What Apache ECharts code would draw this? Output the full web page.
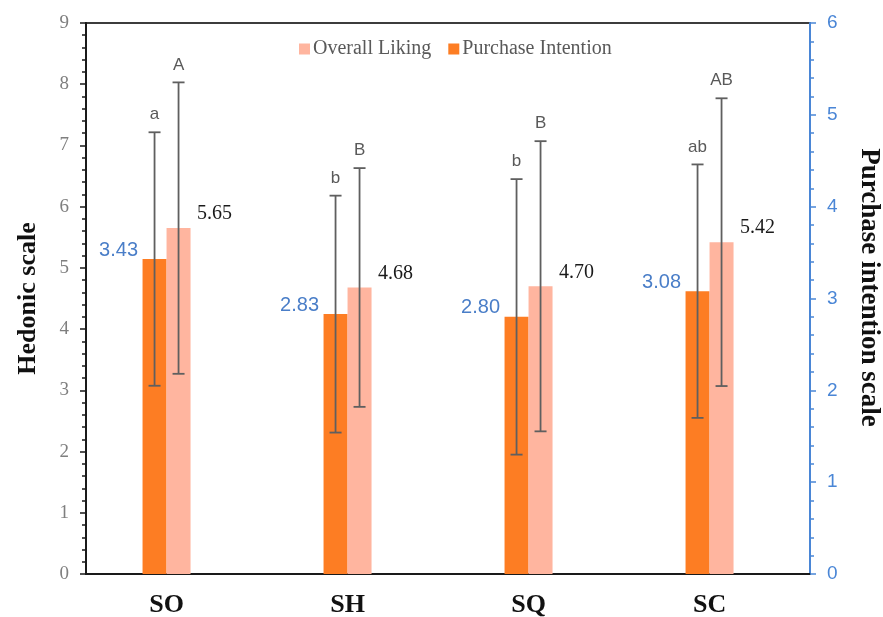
<!DOCTYPE html>
<html>
<head>
<meta charset="utf-8">
<script src="https://cdn.jsdelivr.net/npm/echarts@6/dist/echarts.min.js"></script>
<style>
html,body{margin:0;padding:0;background:#fff;}
#chart{width:883px;height:617px;}
</style>
</head>
<body>
<div id="chart"></div>
<script>
const categories = ['SO', 'SH', 'SQ', 'SC'];
const overallLiking = [5.65, 4.68, 4.70, 5.42];
const likingSD = [2.38, 1.95, 2.37, 2.35];
const likingLetters = ['A', 'B', 'B', 'AB'];
const purchaseIntention = [3.43, 2.83, 2.80, 3.08];
const purchaseSD = [1.38, 1.29, 1.50, 1.38];
const purchaseLetters = ['a', 'b', 'b', 'ab'];
const leftTicks = [0, 9, 1];
const rightTicks = [0, 6, 1];

const SERIF = 'Liberation Serif, Times New Roman, serif';
const SANS = 'Liberation Sans, Arial, sans-serif';
const BAR_W = 24;
const catIdx = categories.map((c, i) => i);

function errData(means, sds, letters) {
  return means.map((m, i) => [i, m - sds[i], m + sds[i], letters[i]]);
}

function errRender(shift) {
  return function (params, api) {
    const idx = api.value(0);
    const lo = api.coord([idx, api.value(1)]);
    const hi = api.coord([idx, api.value(2)]);
    const x = lo[0] + shift;
    const cap = 6;
    const style = { stroke: '#5f5f5f', lineWidth: 1.8 };
    return {
      type: 'group',
      children: [
        { type: 'line', shape: { x1: x, y1: lo[1], x2: x, y2: hi[1] }, style: style },
        { type: 'line', shape: { x1: x - cap, y1: lo[1], x2: x + cap, y2: lo[1] }, style: style },
        { type: 'line', shape: { x1: x - cap, y1: hi[1], x2: x + cap, y2: hi[1] }, style: style },
        { type: 'text', x: x, y: hi[1] - 9,
          style: { text: api.value(3), fill: '#595959', font: '17px ' + SANS, align: 'center', verticalAlign: 'bottom' } }
      ]
    };
  };
}

const chart = echarts.init(document.getElementById('chart'));
chart.setOption({
  animation: false,
  backgroundColor: '#fff',
  grid: { left: 86, right: 73, top: 23, bottom: 43, outerBoundsMode: 'none', containLabel: false,
    show: true, borderColor: '#3c3c3c', borderWidth: 2, backgroundColor: 'transparent' },
  legend: {
    data: ['Overall Liking', 'Purchase Intention'],
    left: 294, top: 34,
    icon: 'rect', itemWidth: 11, itemHeight: 11, itemGap: 17,
    textStyle: { fontFamily: SERIF, fontSize: 20, color: '#595959', padding: [0, 0, 0, -2] }
  },
  xAxis: {
    type: 'value',
    min: -0.445, max: 3.555,
    splitLine: { show: false },
    axisLine: { onZero: false, lineStyle: { color: '#1a1a1a', width: 2 } },
    axisTick: { show: false },
    axisLabel: {
      customValues: catIdx,
      formatter: v => categories[Math.round(v)] || '',
      fontFamily: SERIF, fontWeight: 'bold', fontSize: 26, color: '#111', margin: 18
    }
  },
  yAxis: [
    {
      type: 'value', min: leftTicks[0], max: leftTicks[1], interval: leftTicks[2],
      name: 'Hedonic scale', nameLocation: 'middle', nameGap: 45, nameRotate: 90,
      nameTextStyle: { fontFamily: SERIF, fontWeight: 'bold', fontSize: 26, color: '#111' },
      axisLine: { show: true, onZero: false, lineStyle: { color: '#1a1a1a', width: 2 } },
      axisTick: { show: true, length: 6, lineStyle: { color: '#1a1a1a', width: 1.5 } },
      minorTick: { show: true, splitNumber: 5, length: 4, lineStyle: { color: '#1a1a1a', width: 1.5 } },
      splitLine: { show: false },
      axisLabel: { fontFamily: SERIF, fontSize: 19, color: '#7f7f7f', margin: 17 }
    },
    {
      type: 'value', min: rightTicks[0], max: rightTicks[1], interval: rightTicks[2],
      name: 'Purchase intention scale', nameLocation: 'middle', nameGap: 45, nameRotate: -90,
      nameTextStyle: { fontFamily: SERIF, fontWeight: 'bold', fontSize: 27, color: '#111', padding: [0, 22, 0, 0] },
      axisLine: { show: true, onZero: false, lineStyle: { color: '#4a86d6', width: 2 } },
      axisTick: { show: true, length: 6, lineStyle: { color: '#4a86d6', width: 1.5 } },
      minorTick: { show: true, splitNumber: 5, length: 4, lineStyle: { color: '#4a86d6', width: 1.5 } },
      splitLine: { show: false },
      axisLabel: { fontFamily: SANS, fontSize: 19, color: '#4a86d6', margin: 17 }
    }
  ],
  series: [
    {
      name: 'Purchase Intention', type: 'bar', yAxisIndex: 1,
      data: purchaseIntention.map((v, i) => [catIdx[i], v]), barWidth: BAR_W, barGap: '0%',
      itemStyle: { color: '#fd7d23' },
      label: { show: true, position: 'top', offset: [-36, 6], fontFamily: SANS, fontSize: 20, color: '#4a7ec8',
        formatter: p => p.value[1].toFixed(2) },
      z: 2
    },
    {
      name: 'Overall Liking', type: 'bar', yAxisIndex: 0,
      data: overallLiking.map((v, i) => [catIdx[i], v]), barWidth: BAR_W, barGap: '0%',
      itemStyle: { color: '#ffb59f' },
      label: { show: true, position: 'top', offset: [36, 1], fontFamily: SERIF, fontSize: 20, color: '#1a1a1a',
        formatter: p => p.value[1].toFixed(2) },
      z: 2
    },
    {
      type: 'custom', yAxisIndex: 1, renderItem: errRender(-BAR_W / 2),
      data: errData(purchaseIntention, purchaseSD, purchaseLetters),
      encode: { x: 0, y: [1, 2] }, z: 5, silent: true
    },
    {
      type: 'custom', yAxisIndex: 0, renderItem: errRender(BAR_W / 2),
      data: errData(overallLiking, likingSD, likingLetters),
      encode: { x: 0, y: [1, 2] }, z: 5, silent: true
    }
  ]
});
</script>
</body>
</html>
